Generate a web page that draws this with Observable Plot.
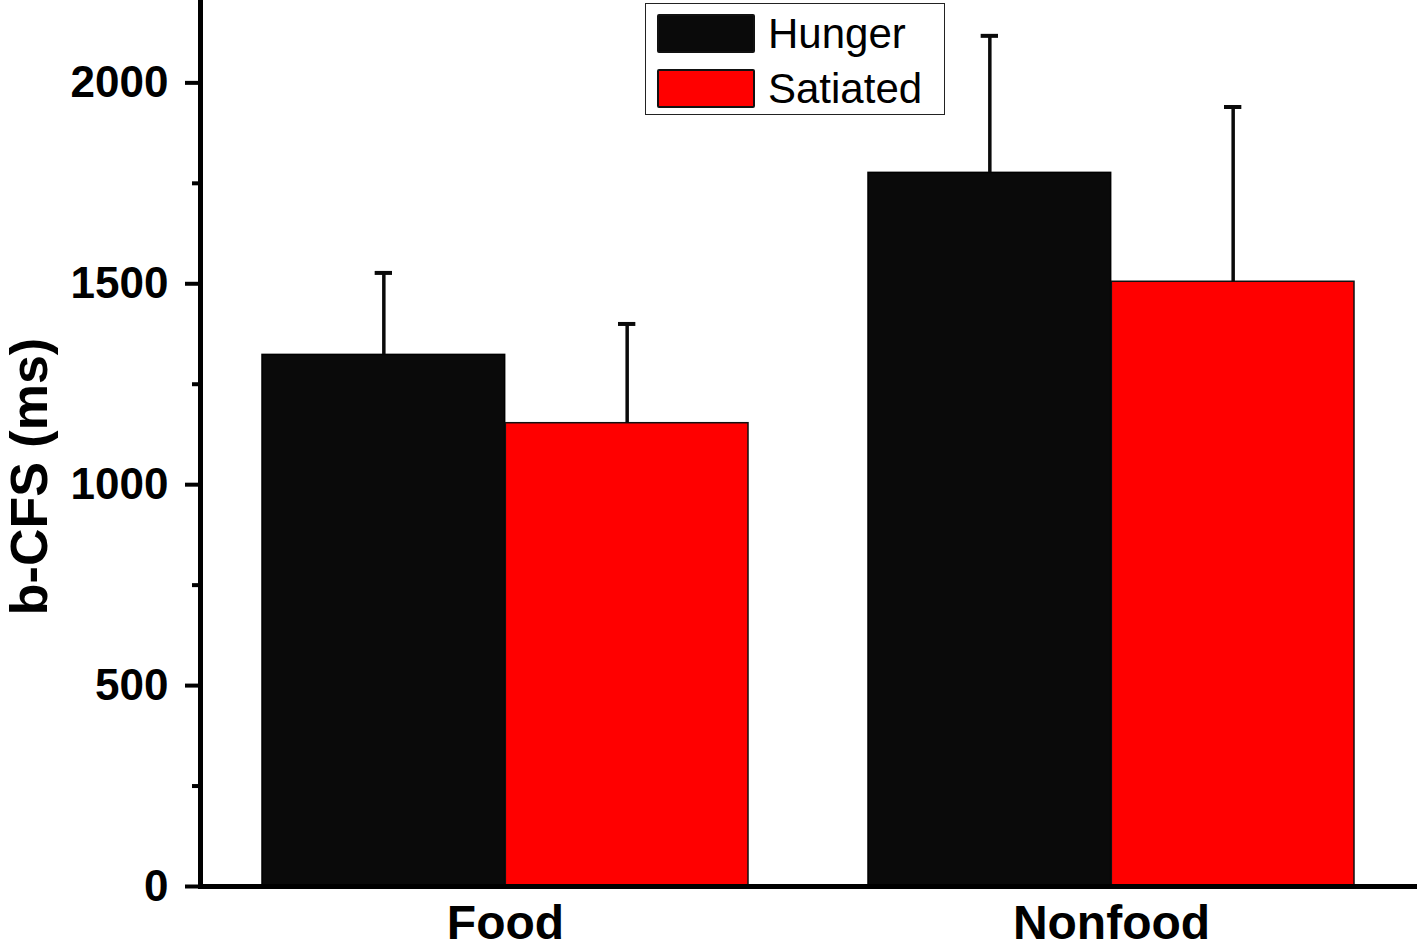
<!DOCTYPE html>
<html>
<head>
<meta charset="utf-8">
<script src="https://cdn.jsdelivr.net/npm/d3@7"></script>
<script src="https://cdn.jsdelivr.net/npm/@observablehq/plot@0.6"></script>
<style>
  html, body { margin: 0; padding: 0; background: #fff; }
  #wrap { position: relative; width: 1417px; height: 946px; overflow: hidden; font-family: "Liberation Sans", Arial, sans-serif; }
  #legend { position: absolute; left: 645px; top: 3px; width: 298px; height: 110px; border: 1.5px solid #222; background: #fff; box-sizing: content-box; }
  .lg-row { position: absolute; left: 11px; height: 39px; display: flex; align-items: center; }
  .lg-sw { width: 94px; height: 35px; border: 2px solid #111; border-radius: 2px; }
  .lg-tx { margin-left: 13px; font-size: 42px; line-height: 39px; color: #000; }
</style>
</head>
<body>
<div id="wrap"></div>
<script>
// ---- data ----
const categories = ["Food", "Nonfood"];
const series = ["Hunger", "Satiated"];
const seriesColors = ["#0a0a0a", "#ff0000"];
const hungerMeans = [1323, 1776];
const hungerErrors = [204, 341];
const satiatedMeans = [1153, 1505];
const satiatedErrors = [247, 435];
const majorTicks = [0, 500, 1000, 1500, 2000];
const minorTicks = [250, 750, 1250, 1750];
const yLabel = "b-CFS (ms)";

const rows = [];
categories.forEach((c, i) => {
  rows.push({cat: c, series: "Hunger", mean: hungerMeans[i], err: hungerErrors[i]});
  rows.push({cat: c, series: "Satiated", mean: satiatedMeans[i], err: satiatedErrors[i]});
});
const hungerRows = rows.filter(d => d.series === "Hunger");
const satRows = rows.filter(d => d.series === "Satiated");

// ---- layout ----
const W = 1417, H = 946;
const mL = 200, mR = 0, mT = 2, mB = 60;
const padIn = 0.1977, padOut = 0.102;
const step = (W - mL - mR) / (categories.length - padIn + 2 * padOut);
const bw = step * (1 - padIn);
const capHalf = 9;

const font = "'Liberation Sans', Arial, sans-serif";

const chart = Plot.plot({
  width: W,
  height: H,
  marginLeft: mL,
  marginRight: mR,
  marginTop: mT,
  marginBottom: mB,
  style: {fontFamily: font, color: "#000", background: "#fff", overflow: "visible"},
  x: {domain: categories, paddingInner: padIn, paddingOuter: padOut, align: 0.5, axis: null},
  y: {domain: [0, 2200], axis: null},
  marks: [
    Plot.barY(hungerRows, {x: "cat", y: "mean", fill: seriesColors[0], stroke: "#000", strokeWidth: 1.5, insetRight: bw / 2}),
    Plot.barY(satRows, {x: "cat", y: "mean", fill: seriesColors[1], stroke: "#111", strokeWidth: 1.5, insetLeft: bw / 2}),
    Plot.ruleX(hungerRows, {x: "cat", y1: "mean", y2: d => d.mean + d.err, dx: -bw / 4, stroke: "#0a0a0a", strokeWidth: 3.5}),
    Plot.ruleX(satRows, {x: "cat", y1: "mean", y2: d => d.mean + d.err, dx: bw / 4, stroke: "#0a0a0a", strokeWidth: 3.5}),
    Plot.tickY(hungerRows, {x: "cat", y: d => d.mean + d.err, insetLeft: bw / 4 - capHalf, insetRight: 3 * bw / 4 - capHalf, stroke: "#0a0a0a", strokeWidth: 4}),
    Plot.tickY(satRows, {x: "cat", y: d => d.mean + d.err, insetLeft: 3 * bw / 4 - capHalf, insetRight: bw / 4 - capHalf, stroke: "#0a0a0a", strokeWidth: 4}),
    Plot.axisY({ticks: majorTicks, tickSize: 15, tickPadding: 17, tickFormat: d => String(d), fontSize: 44, fontWeight: "bold", strokeWidth: 4, stroke: "#000", fill: "#000", label: null}),
    Plot.axisY({ticks: minorTicks, tickSize: 8, tickFormat: null, text: null, strokeWidth: 4, stroke: "#000", label: null}),
    Plot.axisX({tickSize: 0, tickPadding: 18, fontSize: 48, fontWeight: "bold", fill: "#000", label: null}),
    Plot.frame({anchor: "left", stroke: "#000", strokeWidth: 5}),
    Plot.frame({anchor: "bottom", stroke: "#000", strokeWidth: 5}),
    Plot.text([yLabel], {frameAnchor: "left", text: d => d, textAnchor: "middle", lineAnchor: "middle", rotate: -90, dx: -170, dy: 32, fontSize: 52, fontWeight: "bold", fill: "#000"})
  ]
});

const wrap = document.getElementById("wrap");
wrap.appendChild(chart);

// legend
const legend = document.createElement("div");
legend.id = "legend";
series.forEach((s, i) => {
  const row = document.createElement("div");
  row.className = "lg-row";
  row.style.top = (10 + i * 55) + "px";
  const sw = document.createElement("div");
  sw.className = "lg-sw";
  sw.style.background = seriesColors[i];
  const tx = document.createElement("span");
  tx.className = "lg-tx";
  tx.textContent = s;
  row.appendChild(sw);
  row.appendChild(tx);
  legend.appendChild(row);
});
wrap.appendChild(legend);
</script>
</body>
</html>
